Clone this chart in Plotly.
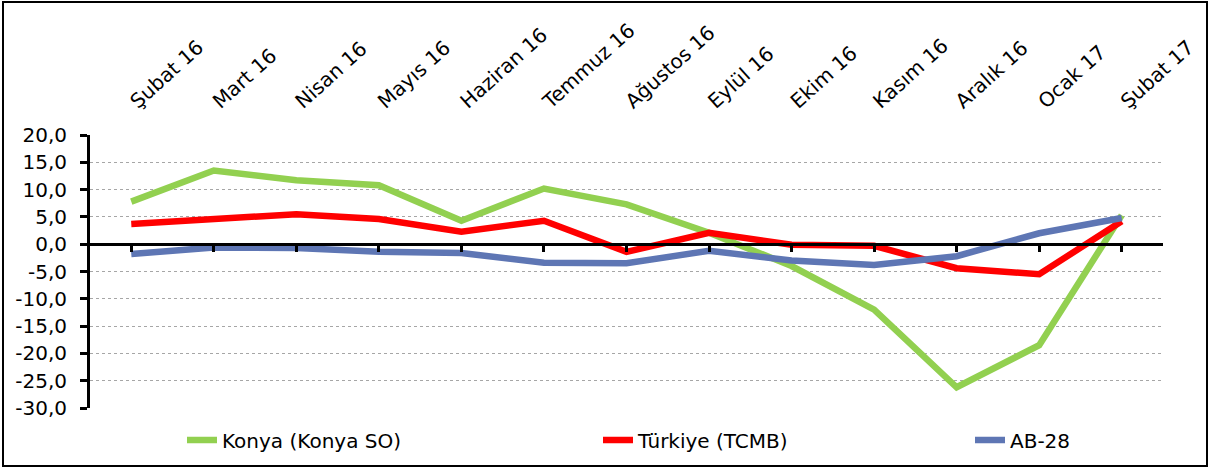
import plotly.graph_objects as go

categories = ["Şubat 16", "Mart 16", "Nisan 16", "Mayıs 16", "Haziran 16", "Temmuz 16",
              "Ağustos 16", "Eylül 16", "Ekim 16", "Kasım 16", "Aralık 16", "Ocak 17", "Şubat 17"]
konya = [7.8, 13.5, 11.7, 10.8, 4.3, 10.2, 7.3, 2.1, -4.0, -12.0, -26.2, -18.5, 5.3]
turkiye = [3.7, 4.7, 5.5, 4.6, 2.3, 4.3, -1.4, 2.1, -0.1, -0.3, -4.4, -5.5, 4.2]
ab28 = [-1.8, -0.6, -0.7, -1.4, -1.6, -3.4, -3.5, -1.2, -3.0, -3.8, -2.2, 2.0, 4.8]

series_names = ["Konya (Konya SO)", "Türkiye (TCMB)", "AB-28"]
series_colors = ["#92D050", "#FF0000", "#5E76B4"]

y_min, y_max, y_step = -30, 20, 5
y_ticks = list(range(y_min, y_max + 1, y_step))
y_ticktext = [f"{v:.1f}".replace(".", ",") for v in y_ticks]

W, H = 1210, 468
ml, mr, mt, mb = 90, 47, 135, 60
font_family = "DejaVu Sans"

fig = go.Figure()
idx = list(range(len(categories)))
for i, (name, vals, col) in enumerate(zip(series_names, [konya, turkiye, ab28], series_colors)):
    fig.add_trace(go.Scatter(
        x=idx, y=vals, mode="lines", name=name,
        line=dict(color=col, width=6.5),
        legend="legend" if i == 0 else f"legend{i+1}",
        xaxis="x", yaxis="y",
    ))
# invisible trace for top label axis
fig.add_trace(go.Scatter(x=idx, y=[None]*len(idx), xaxis="x2", yaxis="y",
                         showlegend=False, hoverinfo="skip"))

pw = W - ml - mr
ph = H - mt - mb
zero_pos = (0 - y_min) / (y_max - y_min)
leg_y = -(440 - mt - ph) / ph

legend_common = dict(orientation="h", xanchor="left", yanchor="middle", y=leg_y,
                     font=dict(size=20, family=font_family), bgcolor="rgba(0,0,0,0)")

fig.update_layout(
    width=W, height=H,
    margin=dict(l=ml, r=mr, t=mt, b=mb, autoexpand=False),
    paper_bgcolor="white", plot_bgcolor="white",
    font=dict(family=font_family, color="black", size=19),
    xaxis=dict(
        range=[-0.5, len(categories) - 0.5], tickmode="array", tickvals=idx,
        showticklabels=False, automargin=False,
        anchor="free", position=zero_pos,
        showline=True, linecolor="black", linewidth=3,
        ticks="outside", tickcolor="black", ticklen=6, tickwidth=3,
        tickson="boundaries", showgrid=False, zeroline=False,
    ),
    xaxis2=dict(
        range=[-0.5, len(categories) - 0.5], tickmode="array", tickvals=idx,
        ticktext=categories, side="top", overlaying="x", anchor="y", automargin=False,
        tickangle=-42, showline=False, ticks="", showgrid=False, zeroline=False,
        ticklabelstandoff=18,
        tickfont=dict(size=20, family=font_family),
    ),
    yaxis=dict(
        range=[y_min, y_max], tickmode="array", tickvals=y_ticks, ticktext=y_ticktext,
        showline=True, linecolor="black", linewidth=3, automargin=False,
        ticks="outside", tickcolor="black", ticklen=7, tickwidth=3,
        ticklabelstandoff=9,
        showgrid=True, gridcolor="#A6A6A6", griddash="dot", gridwidth=1,
        zeroline=False, tickfont=dict(size=20, family=font_family),
    ),
    legend=dict(x=(182 - ml) / pw, **legend_common),
    legend2=dict(x=(598 - ml) / pw, **legend_common),
    legend3=dict(x=(970 - ml) / pw, **legend_common),
    showlegend=True,
)

# outer chart border
fig.add_shape(type="rect", xref="paper", yref="paper",
              x0=-(ml - 3) / pw, x1=1 + (mr - 3) / pw,
              y0=-(mb - 2) / ph, y1=1 + (mt - 2) / ph,
              line=dict(color="black", width=2), fillcolor="rgba(0,0,0,0)", layer="below")

fig.write_html("out.html", config={"displayModeBar": False},
               post_script="document.body.style.margin='0';document.body.style.padding='0';")
